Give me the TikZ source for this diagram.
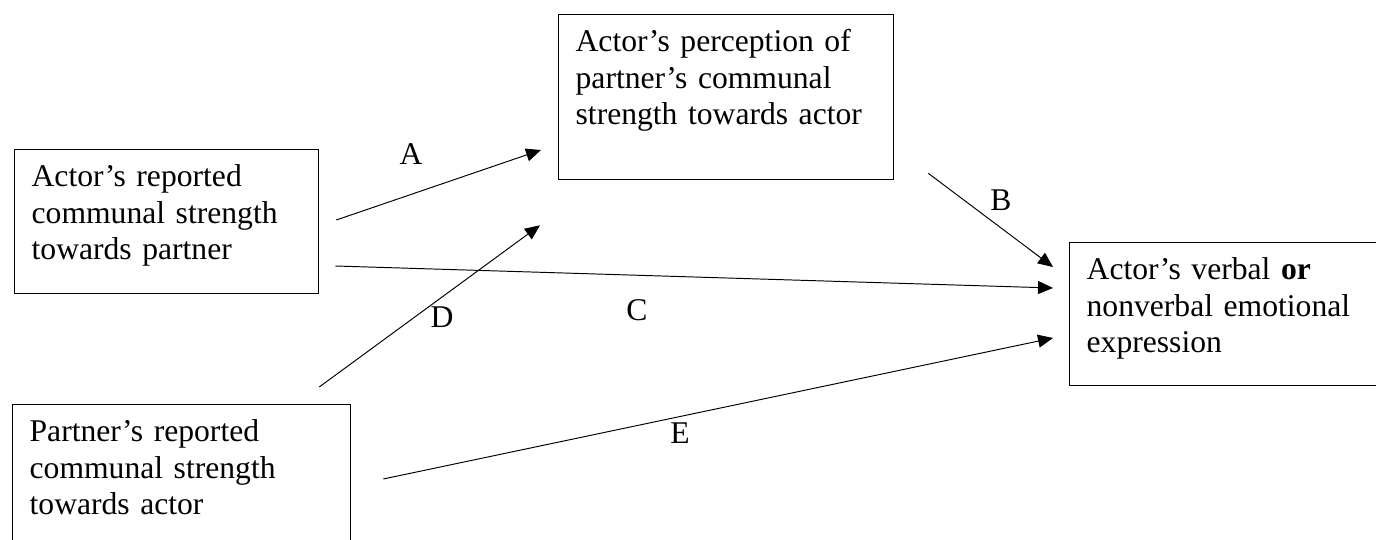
\documentclass[tikz,border=0pt]{standalone}
\usepackage{fontspec}
\setmainfont{Liberation Serif}
\usetikzlibrary{arrows.meta, positioning, calc}

\begin{document}
\begin{tikzpicture}[x=0.02cm, y=-0.02cm,
	box/.style={rectangle, draw, line width=0.75pt, anchor=north west, align=left,
		inner xsep=0.34cm, inner ysep=0.3cm, text height=0.44cm, font=\fontsize{18}{20.8}\selectfont},
	arr/.style={-{Triangle[length=0.3cm, width=0.26cm]}, line width=0.55pt},
	lbl/.style={font=\fontsize{18}{20.8}\selectfont, inner sep=0pt}]
	\useasboundingbox (0,0) rectangle (1376,540);
	\clip (0,0) rectangle (1376,540);
	\node[box, text width=5.4cm, text depth=1.84cm] (act) at (14,149) {Actor's reported\\communal strength\\towards partner};
	\node[box, text width=6.02cm, text depth=2.26cm] (perc) at (558,14) {Actor's perception of\\partner's communal\\strength towards actor};
	\node[box, text width=5.72cm, text depth=1.82cm] (expr) at (1069,242) {Actor's verbal \textbf{or}\\nonverbal emotional\\expression};
	\node[box, text width=6.08cm, text depth=3cm] (part) at (12,404) {Partner's reported\\communal strength\\towards actor};
	\draw[arr] ([shift={(17,71)}]act.north east) -- ([shift={(-17,136)}]perc.north west);
	\draw[arr] ([shift={(34,-7)}]perc.south east) -- ([shift={(-16,25)}]expr.north west);
	\draw[arr] ([shift={(16,117)}]act.north east) -- ([shift={(-16,46)}]expr.north west);
	\draw[arr] ([shift={(-32,-17)}]part.north east) -- ([shift={(-18,45)}]perc.south west);
	\draw[arr] ([shift={(32,75)}]part.north east) -- ([shift={(-16,96)}]expr.north west);
	\node[lbl] (la) at (411,154) {A};
	\node[lbl] (lb) at (1001,200) {B};
	\node[lbl] (lc) at (637,310) {C};
	\node[lbl] (ld) at (442,317) {D};
	\node[lbl] (le) at (680,433) {E};
\end{tikzpicture}
\end{document}
